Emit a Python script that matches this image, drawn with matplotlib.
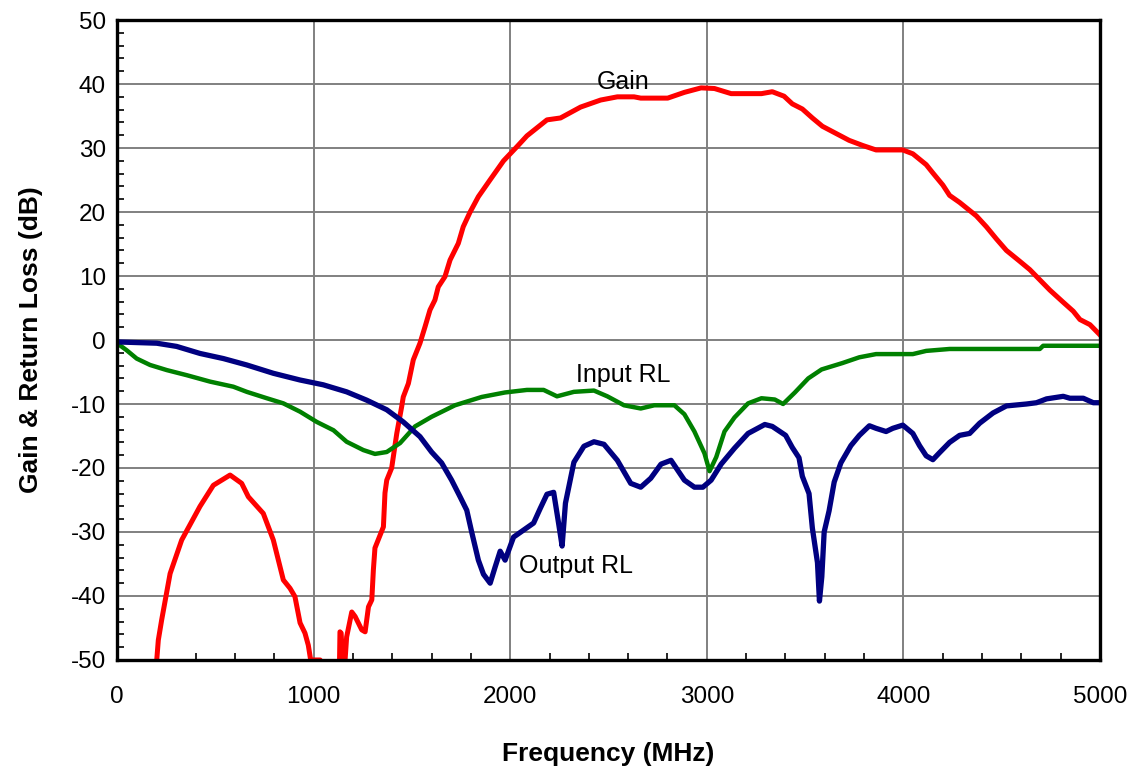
import matplotlib
matplotlib.use("Agg")
import matplotlib.pyplot as plt
from matplotlib.ticker import MultipleLocator

plt.rcParams['font.family'] = ['Liberation Sans', 'DejaVu Sans']
plt.rcParams['axes.unicode_minus'] = False

# ---- data ----
gain_freq = [185, 202, 210, 227, 270, 329, 422, 490, 575, 634,
             668, 744, 795, 846, 880, 905, 931, 956, 973, 985,
             1033, 1045, 1128, 1134, 1140, 1147, 1152, 1160, 1168, 1194,
             1211, 1245, 1262, 1279, 1296, 1304, 1312, 1355, 1363, 1372,
             1397, 1423, 1448, 1456, 1482, 1507, 1541, 1567, 1592, 1617,
             1634, 1668, 1694, 1736, 1761, 1796, 1838, 1897, 1966, 2034,
             2085, 2187, 2256, 2358, 2460, 2545, 2630, 2664, 2801, 2886,
             2971, 3039, 3124, 3278, 3333, 3393, 3435, 3486, 3537, 3588,
             3656, 3724, 3793, 3861, 3997, 4048, 4116, 4150, 4201, 4235,
             4286, 4371, 4422, 4473, 4524, 4592, 4643, 4694, 4745, 4813,
             4864, 4898, 4949, 5000]
gain_db = [-55, -50, -46.9, -43.75, -36.5, -31.25, -26, -22.7, -21.1, -22.4,
           -24.5, -27.1, -31.25, -37.5, -38.8, -40.1, -44.2, -45.8, -47.7, -50,
           -50, -58, -58, -45.6, -45.8, -50, -55, -50, -46.4, -42.5,
           -43.2, -45.3, -45.6, -41.7, -40.6, -35.9, -32.5, -29.2, -23.9, -21.9,
           -20, -14.6, -10.4, -8.9, -6.8, -3.1, -0.5, 2.1, 4.7, 6.25,
           8.3, 9.9, 12.5, 15.1, 17.7, 20, 22.4, 25, 28, 30.2,
           31.9, 34.4, 34.7, 36.4, 37.5, 38, 38, 37.8, 37.8, 38.7,
           39.4, 39.3, 38.5, 38.5, 38.8, 38.1, 36.9, 36.1, 34.7, 33.4,
           32.3, 31.2, 30.4, 29.7, 29.7, 29.1, 27.4, 26.1, 24.2, 22.6,
           21.5, 19.4, 17.7, 15.8, 14, 12.3, 11, 9.4, 7.8, 5.9,
           4.5, 3.2, 2.4, 0.8]

inrl_freq = [0, 49, 100, 168, 253, 355, 473, 592, 660, 762,
             846, 931, 1016, 1101, 1168, 1253, 1312, 1372, 1440, 1516,
             1600, 1719, 1855, 1973, 2085, 2170, 2238, 2324, 2426, 2494,
             2579, 2664, 2733, 2835, 2886, 2937, 2988, 3014, 3048, 3090,
             3141, 3210, 3278, 3346, 3388, 3448, 3516, 3584, 3690, 3776,
             3861, 4048, 4116, 4235, 4694, 4711, 5000]
inrl_db = [-0.5, -1.6, -2.9, -3.9, -4.7, -5.5, -6.5, -7.3, -8.1, -9.1,
           -9.9, -11.2, -12.8, -14.1, -15.9, -17.2, -17.8, -17.5, -16.1, -13.5,
           -12, -10.2, -8.9, -8.2, -7.8, -7.8, -8.8, -8.1, -7.9, -8.8,
           -10.2, -10.7, -10.2, -10.2, -11.6, -14.3, -17.7, -20.5, -18.3, -14.3,
           -12.1, -9.9, -9.1, -9.3, -10, -8.2, -6, -4.6, -3.6, -2.7,
           -2.2, -2.2, -1.7, -1.4, -1.4, -0.9, -0.9]

outrl_freq = [0, 202, 303, 422, 541, 660, 795, 931, 1049, 1168,
              1270, 1372, 1456, 1541, 1600, 1651, 1702, 1745, 1779, 1804,
              1838, 1864, 1898, 1923, 1949, 1974, 2017, 2068, 2119, 2153,
              2187, 2221, 2247, 2264, 2281, 2324, 2375, 2426, 2477, 2545,
              2613, 2664, 2715, 2767, 2818, 2886, 2937, 2980, 3022, 3073,
              3141, 3210, 3295,
              3333, 3401, 3435, 3469, 3486, 3520, 3537, 3563, 3573, 3585,
              3597, 3622, 3648, 3682, 3733, 3776, 3827, 3861, 3912, 3946,
              3997, 4048, 4082, 4116, 4150, 4184, 4235, 4286, 4337, 4388,
              4456, 4524, 4626, 4677, 4728, 4813, 4847, 4915, 4966, 5000]
outrl_db = [-0.3, -0.5, -1.0, -2.1, -2.9, -3.9, -5.2, -6.25, -7.0, -8.1,
            -9.4, -10.9, -12.8, -15.1, -17.5, -19.2, -21.9, -24.5, -26.6, -30,
            -34.4, -36.6, -38, -35.5, -33, -34.4, -30.8, -29.7, -28.6, -26.3,
            -24.1, -23.8, -28.8, -32.2, -25.5, -19.1, -16.6, -15.9, -16.3, -18.8,
            -22.4, -23, -21.6, -19.4, -18.8, -21.9, -23, -23, -21.9, -19.4,
            -16.9, -14.6, -13.2,
            -13.5, -14.9, -16.8, -18.4, -21.3, -24, -29.4, -34.8, -40.8, -37,
            -30, -26.7, -22.2, -19.2, -16.5, -14.9, -13.4, -13.8, -14.3, -13.8,
            -13.3, -14.6, -16.5, -18.1, -18.7, -17.6, -16, -14.9, -14.6, -13,
            -11.4, -10.3, -10, -9.8, -9.2, -8.8, -9.1, -9.1, -9.8, -9.8]

labels = ["Gain", "Input RL", "Output RL"]
label_freq = [2574, 2574, 2335]
label_db = [40.3, -5.5, -35.3]


fig = plt.figure(figsize=(11.34, 7.71), dpi=100)
ax = fig.add_axes([0.1032, 0.144, 0.8668, 0.830])

ax.plot(gain_freq, gain_db, color='#FF0000', lw=3.6, solid_joinstyle='round')
ax.plot(inrl_freq, inrl_db, color='#008000', lw=3.2, solid_joinstyle='round')
ax.plot(outrl_freq, outrl_db, color='#000080', lw=3.8, solid_joinstyle='round')

for txt, fx, fy in zip(labels, label_freq, label_db):
    ax.text(fx, fy, txt, fontsize=18, ha='center', va='center')

ax.set_xlim(0, 5000)
ax.set_ylim(-50, 50)
ax.xaxis.set_major_locator(MultipleLocator(1000))
ax.xaxis.set_minor_locator(MultipleLocator(200))
ax.yaxis.set_major_locator(MultipleLocator(10))
ax.yaxis.set_minor_locator(MultipleLocator(2))
ax.grid(True, which='major', color='#808080', lw=1.4)
ax.set_axisbelow(True)

ax.tick_params(which='both', direction='in', top=False, right=False)
ax.tick_params(which='major', length=0, labelsize=17.5)
ax.tick_params(axis='x', which='major', pad=19)
ax.tick_params(axis='y', which='major', pad=8)
ax.tick_params(which='minor', length=5, width=1.2)

for sp in ax.spines.values():
    sp.set_linewidth(2.4)
    sp.set_color('black')
    sp.set_zorder(5)

ax.set_xlabel('Frequency (MHz)', fontsize=19, fontweight='bold', labelpad=24)
ax.set_ylabel('Gain & Return Loss (dB)', fontsize=19, fontweight='bold', labelpad=20)

fig.savefig('out.png', dpi=100)
